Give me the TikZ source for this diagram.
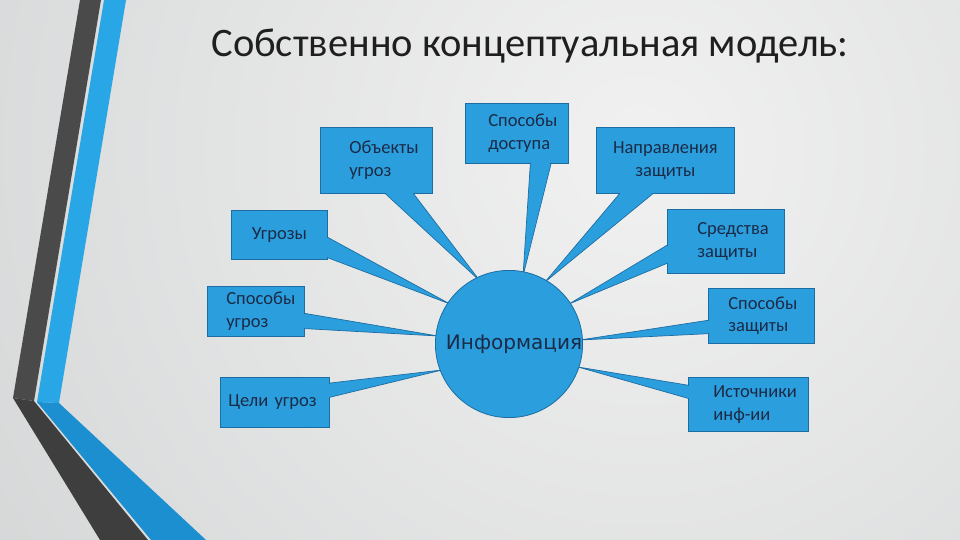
\documentclass[tikz,border=0pt]{standalone}
\usepackage{fontspec}
\setmainfont{Carlito}
\newfontfamily\infofont{DejaVu Sans}
\usetikzlibrary{calc}
\pgfdeclarelayer{back}
\pgfdeclarelayer{wedges}
\pgfsetlayers{back,wedges,main}
\definecolor{boxfill}{HTML}{2B9FDD}
\definecolor{boxline}{HTML}{1D6DA3}
\definecolor{txt}{HTML}{1B2A47}
\definecolor{bgA}{HTML}{F1F1F1}
\definecolor{bgB}{HTML}{BCBFC0}
\definecolor{stripedark}{HTML}{4A4A4A}
\definecolor{stripedarkB}{HTML}{3E3E3E}
\definecolor{stripeblue}{HTML}{29A6E6}
\definecolor{stripeblueB}{HTML}{1C8FD0}
\tikzset{
  box/.style={draw=boxline, fill=boxfill, line width=0.7pt, inner xsep=0pt, inner ysep=0pt,
    anchor=north west, text=txt, font=\fontsize{18.5}{22.5}\selectfont},
  lbox/.style={box, align=left},
  cbox/.style={box, align=center},
}
\newcommand\twolines[3]{\hspace*{#1}#2\\\hspace*{#1}#3}
\newcommand\callout[6]{%
  \begin{pgfonlayer}{wedges}
  \path[fill=boxfill, draw=boxline, line width=0.7pt]
    ($(#1.#2)!#4!(#1.#3)$) -- ($(info.center)+(#6)$) -- ($(#1.#2)!#5!(#1.#3)$);
  \end{pgfonlayer}
  \draw[boxfill, line width=1.4pt, shorten <=0.6pt, shorten >=0.6pt]
    ($(#1.#2)!#4!(#1.#3)$) -- ($(#1.#2)!#5!(#1.#3)$);
}
\begin{document}
\begin{tikzpicture}[x=1pt,y=-1pt]
\useasboundingbox (0,0) rectangle (960,540);
\begin{pgfonlayer}{back}
  \begin{scope}
    \clip (0,0) rectangle (960,540);
    \shade[inner color=bgA, outer color=bgB] (640,150) circle[radius=1500];
  \end{scope}
  % left decorative stripes
  \fill[stripedark] (80,0) -- (101,0) -- (34,401) -- (13,398) -- cycle;
  \fill[stripedarkB] (13,398) -- (34,401) -- (148,540) -- (100,540) -- cycle;
  \fill[stripeblue] (104,0) -- (126,0) -- (59,403) -- (37,402) -- cycle;
  \fill[stripeblueB] (37,402) -- (59,403) -- (206,540) -- (151,540) -- cycle;
\end{pgfonlayer}

\node[text=black!88, font=\fontsize{40.5}{46}\selectfont] (title) at (530,46) {Собственно концептуальная модель:};

\node[circle, draw=boxline, fill=boxfill, line width=0.8pt, minimum size=146pt, inner sep=0pt,
      text=txt, font=\infofont\fontsize{20}{24}\selectfont] (info) at (509,344) {\hspace*{10pt}Информация};

\node[lbox, text width=112pt, minimum height=66pt] (ob) at (320,127) {\twolines{29pt}{Объекты}{угроз}};
\node[lbox, text width=103pt, minimum height=60pt] (sd) at (465,103) {\twolines{23pt}{Способы}{доступа}};
\node[cbox, text width=96pt, minimum height=49pt] (ug) at (231,210) {Угрозы};
\node[lbox, text width=97pt, minimum height=50pt] (su) at (207,286) {\twolines{19pt}{Способы}{угроз}};
\node[lbox, text width=109pt, minimum height=50pt] (cu) at (220,377) {\hspace*{8pt}Цели угроз};
\node[cbox, text width=138pt, minimum height=66pt] (nz) at (596,127) {Направления\\защиты};
\node[lbox, text width=117pt, minimum height=64pt] (sz) at (667,209) {\twolines{30pt}{Средства}{защиты}};
\node[lbox, text width=106pt, minimum height=55pt] (spz) at (708,288) {\twolines{20pt}{Способы}{защиты}};
\node[lbox, text width=120pt, minimum height=54pt] (ist) at (688,377) {\twolines{25pt}{Источники}{инф-ии}};

\callout{ob}{south west}{south east}{0.58}{0.83}{-29,-63}
\callout{sd}{south west}{south east}{0.63}{0.83}{14,-68}
\callout{ug}{north east}{south east}{0.55}{0.96}{-59,-40}
\callout{su}{north east}{south east}{0.54}{0.84}{-71,-8}
\callout{cu}{north east}{south east}{0.12}{0.40}{-67,26}
\callout{nz}{south west}{south east}{0.17}{0.41}{36,-62}
\callout{sz}{north west}{south west}{0.56}{0.84}{60,-40}
\callout{spz}{north west}{south west}{0.58}{0.82}{71,-4}
\callout{ist}{north west}{south west}{0.15}{0.39}{69,23}
\end{tikzpicture}
\end{document}
